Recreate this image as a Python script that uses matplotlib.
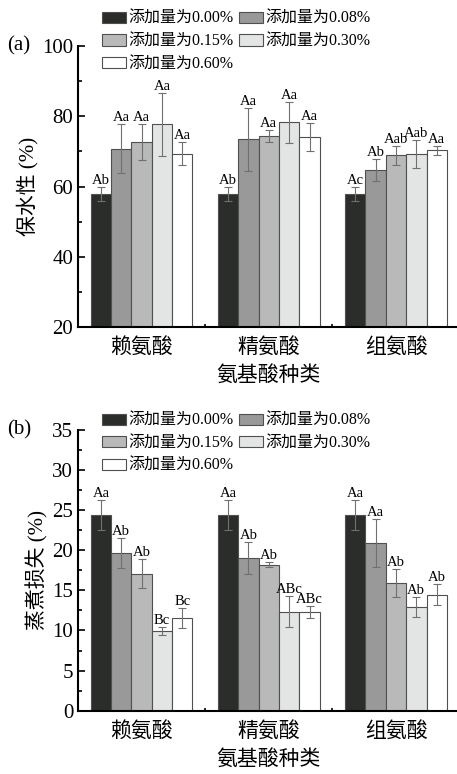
import numpy as np
import matplotlib.pyplot as plt
from matplotlib.ticker import MultipleLocator

plt.rcParams['font.family'] = ['Liberation Serif', 'Noto Sans CJK SC']
plt.rcParams['axes.unicode_minus'] = False

acids = ['赖氨酸', '精氨酸', '组氨酸']
doses = ['添加量为0.00%', '添加量为0.08%', '添加量为0.15%', '添加量为0.30%', '添加量为0.60%']
colors = ['#2b2d2a', '#999999', '#b9b9b9', '#e3e5e5', '#ffffff']

# water retention (%), rows = dose, cols = acid
wr_mean = [[57.9, 57.9, 57.9],
           [70.8, 73.4, 64.6],
           [72.7, 74.4, 68.9],
           [77.7, 78.3, 69.2],
           [69.4, 74.0, 70.3]]
wr_err = [[2.1, 2.1, 2.1],
          [7.0, 9.0, 3.1],
          [5.2, 1.7, 2.7],
          [9.0, 5.8, 4.0],
          [3.4, 4.0, 1.3]]
wr_lab = [['Ab', 'Ab', 'Ac'],
          ['Aa', 'Aa', 'Ab'],
          ['Aa', 'Aa', 'Aab'],
          ['Aa', 'Aa', 'Aab'],
          ['Aa', 'Aa', 'Aa']]

# cooking loss (%)
cl_mean = [[24.4, 24.4, 24.4],
           [19.7, 19.0, 20.9],
           [17.1, 18.2, 15.95],
           [9.9, 12.35, 12.95],
           [11.5, 12.3, 14.45]]
cl_err = [[1.9, 1.9, 1.9],
          [1.85, 2.0, 3.0],
          [1.75, 0.3, 1.75],
          [0.5, 1.95, 1.25],
          [1.25, 0.8, 1.3]]
cl_lab = [['Aa', 'Aa', 'Aa'],
          ['Ab', 'Ab', 'Aa'],
          ['Ab', 'Ab', 'Ab'],
          ['Bc', 'ABc', 'Ab'],
          ['Bc', 'ABc', 'Ab']]

fig = plt.figure(figsize=(4.57, 7.74), dpi=100)
ax1 = fig.add_axes([0.1707, 0.5775, 0.835, 0.363])
ax2 = fig.add_axes([0.1707, 0.0818, 0.835, 0.3627])

x = np.arange(len(acids))
w = 0.16


def panel(ax, mean, err, lab, ylim, major, minor, ylabel, tag, leg_y):
    handles = []
    for i in range(len(doses)):
        xi = x + (i - 2) * w
        b = ax.bar(xi, mean[i], w, color=colors[i], edgecolor='#505050',
                   linewidth=0.8, label=doses[i], zorder=2)
        handles.append(b)
        ax.errorbar(xi, mean[i], yerr=err[i], fmt='none', ecolor='#707070',
                    elinewidth=0.8, capsize=3, capthick=0.8, zorder=3)
        for j in range(len(acids)):
            ax.text(xi[j], mean[i][j] + err[i][j], lab[i][j], ha='center',
                    va='bottom', fontsize=10.5)
    ax.set_xlim(-0.5, 2.5)
    ax.set_ylim(*ylim)
    ax.yaxis.set_major_locator(MultipleLocator(major))
    ax.yaxis.set_minor_locator(MultipleLocator(minor))
    ax.set_xticks(x)
    ax.set_xticks([0.5, 1.5], minor=True)
    ax.set_xticklabels(acids, fontsize=15)
    ax.tick_params(axis='both', which='both', direction='in', width=1.2)
    ax.tick_params(axis='both', which='major', length=5, labelsize=15)
    ax.tick_params(axis='x', which='major', pad=8)
    ax.tick_params(axis='both', which='minor', length=3)
    ax.tick_params(axis='x', which='minor', length=2)
    for s in ['top', 'right']:
        ax.spines[s].set_visible(False)
    for s in ['left', 'bottom']:
        ax.spines[s].set_linewidth(1.5)
    ax.set_ylabel(ylabel, fontsize=15, labelpad=2.5)
    ax.set_xlabel('氨基酸种类', fontsize=15, labelpad=6)
    ax.text(-0.185, 1.0, tag, transform=ax.transAxes, fontsize=15,
            ha='left', va='center')
    # row-wise order for a 2-column legend
    order = [0, 2, 4, 1, 3]
    ax.legend([handles[k] for k in order], [doses[k] for k in order],
              ncol=2, loc='upper left',
              bbox_to_anchor=(0.045, leg_y), frameon=False, fontsize=11.5,
              handlelength=1.5, handleheight=0.7, handletextpad=0.2,
              columnspacing=0.3, labelspacing=0.42, borderaxespad=0)


panel(ax1, wr_mean, wr_err, wr_lab, (20, 100), 20, 10, '保水性 (%)', '(a)', 1.148)
panel(ax2, cl_mean, cl_err, cl_lab, (0, 35), 5, 2.5, '蒸煮损失 (%)', '(b)', 1.084)

fig.savefig('out.png', dpi=100)
